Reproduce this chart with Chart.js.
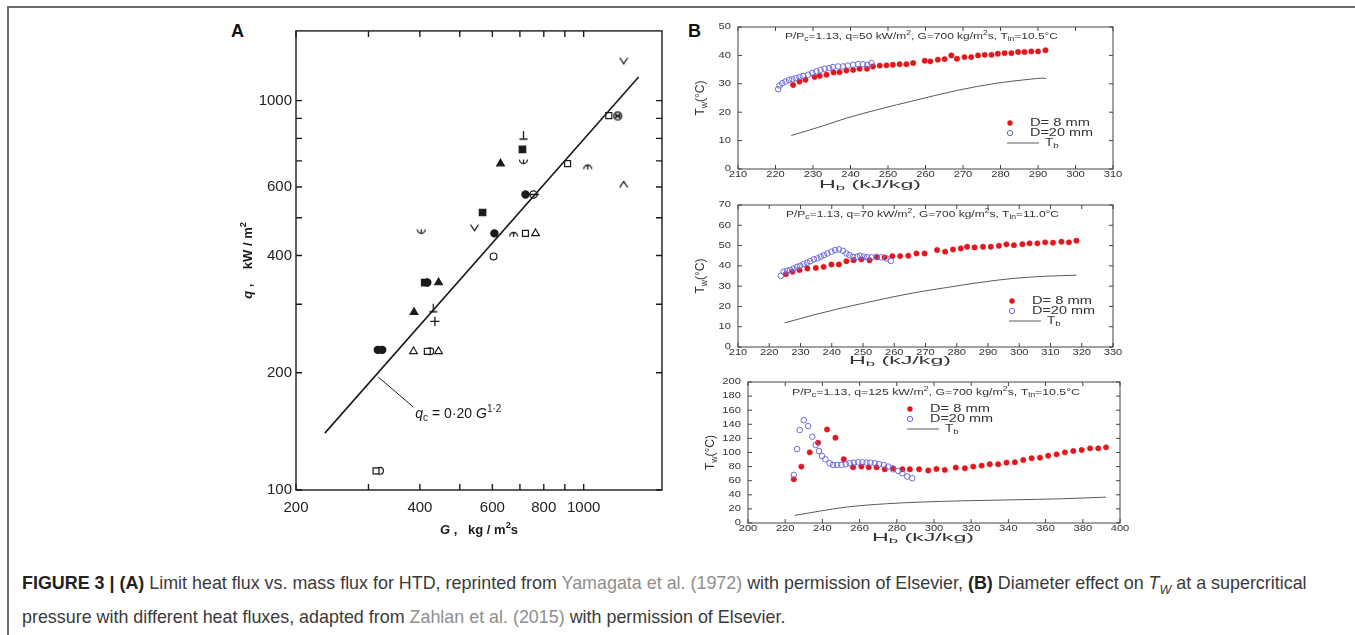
<!DOCTYPE html>
<html lang="en">
<head>
  <meta charset="UTF-8" />
  <title>Figure 3 - HTD limit heat flux and diameter effect</title>
  <script src="https://cdn.jsdelivr.net/npm/chart.js"></script>
  <style>
    body {
      margin: 0;
      width: 1355px;
      height: 635px;
      background: #fff;
      position: relative;
      overflow: hidden;
      font-family: "Liberation Sans", Arial, Helvetica, sans-serif;
    }
    .frame {
      position: absolute;
      left: 7px;
      top: 6px;
      width: 1400px;
      height: 700px;
      border-left: 2px solid #6c6c6c;
      border-top: 2px solid #6c6c6c;
    }
    canvas { position: absolute; }
    .tag {
      position: absolute;
      font-weight: bold;
      font-size: 18px;
      color: #111;
    }
    .caption {
      position: absolute;
      left: 22px;
      top: 566px;
      color: #3a3a3a;
      white-space: nowrap;
      font-size: 15px;
    }
    .caption div { height: 34px; line-height: 34px; }
    .caption sub { font-size: 70%; line-height: 0; }
    .caption b { color: #222; }
    .caption .ref { color: #8e8e8e; }
  </style>
</head>
<body>
  <div class="frame"></div>
  <div class="tag" style="left:231px; top:21px;">A</div>
  <div class="tag" style="left:688px; top:21px;">B</div>

  <canvas id="chartA"></canvas>
  <canvas id="chartB1"></canvas>
  <canvas id="chartB2"></canvas>
  <canvas id="chartB3"></canvas>

  <div class="caption" id="caption">
    <div id="capLine1"><b>FIGURE 3 | (A)</b> Limit heat flux vs. mass flux for HTD, reprinted from <span class="ref">Yamagata et al. (1972)</span> with permission of Elsevier, <b>(B)</b> Diameter effect on <i>T<sub>W</sub></i> at a supercritical</div>
    <div>pressure with different heat fluxes, adapted from <span class="ref">Zahlan et al. (2015)</span> with permission of Elsevier.</div>
  </div>

  <script>
    // ---------- Panel A: limit heat flux q (kW/m2) vs mass flux G (kg/m2s) ----------
    const fitG = [235, 1360];            // q_c = 0.20 G^1.2
    const fitQ = [140, 1150];
    const noteG = 317, noteQ = 195;      // where the formula pointer touches the line

    const dotG = [722, 607, 417, 316, 324];
    const dotQ = [574, 456, 341, 229, 229];
    const blockG = [710, 568, 411];
    const blockQ = [749, 516, 341];
    const wedgeG = [628, 444, 387];
    const wedgeQ = [689, 341, 286];
    const boxG = [1151, 914, 722, 417, 313];
    const boxQ = [915, 689, 456, 227, 112];
    const ringG = [604, 424, 320];
    const ringQ = [398, 227, 112];
    const deltaG = [764, 386, 444];
    const deltaQ = [456, 227, 227];
    const veeG = [1251, 543];
    const veeQ = [1266, 472];
    const caretG = [1251];
    const caretQ = [609];
    const tackG = [714, 431];
    const tackQ = [813, 293];
    const plusG = [435];
    const plusQ = [271];
    const cupG = [714, 403];
    const cupQ = [693, 459];
    const archG = [1023, 676];
    const archQ = [679, 456];
    const thetaG = [755];
    const thetaQ = [574];
    const otimesG = [1210];
    const otimesQ = [913];

    const gTicks = [200, 300, 400, 500, 600, 700, 800, 900, 1000];
    const gLabels = [200, 400, 600, 800, 1000];
    const qTicks = [100, 200, 300, 400, 500, 600, 700, 800, 900, 1000];
    const qLabels = [100, 200, 400, 600, 1000];

    // ---------- Panel B: wall temperature vs bulk enthalpy ----------
    const fluxB = ['50', '70', '125'];
    const inletB = ['10.5', '11.0', '10.5'];

    const b1RedH = [224.7,226.4,228,230.4,231.8,233.6,235.5,237.1,238.9,240.7,242.4,244.4,246,247.8,249.6,251.3,253.1,254.9,256.7,259.8,261.3,263.3,265.1,266.9,268.4,270.4,272.2,274,275.8,277.6,279.3,281.1,282.9,284.7,286.4,288.2,290,292];
    const b1RedT = [29.6,30.8,31.4,32.4,32.8,33.2,34,34.1,34.7,34.9,35.3,35.3,36.1,36.4,36.5,36.7,36.9,36.9,37.3,38.1,37.9,38.5,38.7,40,38.8,39.4,39.4,40,40.2,40.2,40.6,40.8,40.8,41.2,41.2,41.4,41.4,41.8];
    const b1BlueH = [220.7,221.1,221.8,222.7,223.6,224.5,225.4,226.4,227.3,228.7,229.8,230.9,232,233.1,234.3,235.3,236.7,238,239.3,240.7,242,243.3,244.5,245.6];
    const b1BlueT = [28.1,29.4,30.2,30.8,31.4,31.6,32,32.4,32.8,33.2,33.8,34.4,34.9,35.3,35.5,35.9,36.1,36.1,36.4,36.7,36.9,36.9,36.7,37.3];
    const b1BulkH = [224.2,232.7,238.9,247.8,256.7,268.2,278.9,287.8,291.3,292.2];
    const b1BulkT = [11.8,15.2,17.9,21.1,24,27.6,30.2,31.6,32,31.8];

    const b2RedH = [225.3,227.4,229.7,232.2,234.9,237.4,239.9,242.3,244.7,247,249.5,252.1,254.5,256.9,259.4,261.9,264.5,267.1,269.7,273.7,276.3,278.8,281.3,283.3,285.7,288.4,290.9,293.5,295.9,298.3,301,303.3,305.8,308.3,310.8,313.5,315.9,318.3];
    const b2RedT = [35.9,37.1,37.9,38.7,39,39.5,40.7,40.7,42.3,42.8,43.2,42.8,44.2,44.2,44.8,44.8,45,46.1,46.1,47.8,47,48.1,48.6,49.4,49.1,49.4,49.4,49.9,50.6,50.2,50.7,51.1,51.1,51.6,51.4,51.9,51.6,52.4];
    const b2BlueH = [223.7,224.6,225.7,226.7,227.8,228.9,229.9,231,232.1,233.1,234.3,235.4,236.5,237.5,238.6,239.9,241.1,242.3,243.6,244.7,245.7,246.8,248.1,249.1,250.2,251.3,252.7,254.3,255.9,257.5,258.9];
    const b2BlueT = [35.1,37.1,37.6,37.9,38.7,39.5,40,40.9,41.5,42.3,43.2,43.7,44.5,45.3,46.1,47,47.8,48.1,47.4,46.1,45.3,44.5,44.5,45,44.5,44.2,44.2,44.5,44.2,43.7,42.5];
    const b2BulkH = [224.9,234,241.5,251.1,259.6,268.1,276.7,287.3,298,308.7,318.3];
    const b2BulkT = [11.9,15.7,18.6,21.9,24.7,27.2,29.3,31.8,33.8,34.9,35.4];

    const b3RedH = [224.6,228.7,233.2,237.7,242.5,247,251.5,256.5,261,264.9,269.1,273.5,278,283,287,292,296.9,301.3,305.8,311.7,316.6,321.1,325.6,330,334.5,339,343.5,348,352.5,357,361.4,365.9,370.4,374.9,379.4,383.9,388.3,392.5];
    const b3RedT = [62.1,80,100.2,113.9,132.7,120.9,90.4,79.1,80,79.1,79.1,76.2,77.6,76.2,76.2,76.2,74.4,76.7,75.3,78.6,77.6,80,81.4,83.3,83.3,85.6,86.1,89.4,91.8,92.7,95.5,97.4,100.2,102.1,103.5,105.9,105.9,107.3];
    const b3BlueH = [224.6,226.4,227.8,230,232.3,234.6,236.4,238.2,239.8,241.6,243.9,245.7,247.9,250.2,252.6,254.7,256.9,259.2,261.5,263.7,265.8,268.2,270.5,273,275.3,278,280.7,283,285.6,288.3];
    const b3BlueT = [68.2,104.9,131.8,145.9,137.4,122.4,110.6,102.1,95.1,90.4,84.7,82.4,82.4,82.4,83.3,84.7,85.6,86.1,86.1,85.6,85.6,84.7,83.3,82.4,80,76.2,73.9,70.6,65.9,63.5];
    const b3BulkH = [225.1,252.9,274.4,292.4,315.7,342.6,369.5,392.5];
    const b3BulkT = [10.8,22.6,27.3,29.6,31.5,32.9,34.4,36.7];

    // ---------- helpers ----------
    const FAMILY = '"Liberation Sans", Arial, Helvetica, sans-serif';
    const INK = '#1b1b1b';
    const TXT = '#333';
    const RED = '#e3161d';
    const BLUE = '#6a6ade';
    const BULK = '#5a5a5a';

    function pts(xs, ys) {
      return xs.map((x, i) => ({ x: x, y: ys[i] }));
    }

    // size the canvas so the plot area lands on the given page rectangle
    function place(canvas, area, m) {
      canvas.style.left = (area.left - m.l) + 'px';
      canvas.style.top = (area.top - m.t) + 'px';
      canvas.width = area.width + m.l + m.r;
      canvas.height = area.height + m.t + m.b;
    }

    // text made of runs: ['text', ''|'sub'|'sup'|'it'], optionally stretched sideways
    function drawParts(ctx, parts, x, y, o) {
      const size = o.size;
      const runs = parts.map(([t, mode]) => {
        const s = (mode === 'sub' || mode === 'sup') ? size * 0.72 : size;
        const font = (mode === 'it' ? 'italic ' : '') + (o.weight || 'normal') + ' ' + s + 'px ' + FAMILY;
        ctx.font = font;
        return { t, font, w: ctx.measureText(t).width,
                 dy: mode === 'sub' ? size * 0.3 : mode === 'sup' ? -size * 0.38 : 0 };
      });
      const natural = runs.reduce((s, r) => s + r.w, 0);
      const sx = o.width ? o.width / natural : (o.sx || 1);
      const total = natural * sx;
      ctx.save();
      ctx.translate(x, y);
      if (o.rotate) ctx.rotate(o.rotate);
      const start = o.align === 'center' ? -total / 2 : o.align === 'right' ? -total : 0;
      ctx.translate(start, 0);
      ctx.scale(sx, 1);
      ctx.fillStyle = o.color || TXT;
      ctx.textBaseline = 'middle';
      ctx.textAlign = 'left';
      let cx = 0;
      runs.forEach(r => {
        ctx.font = r.font;
        ctx.fillText(r.t, cx, r.dy);
        cx += r.w;
      });
      ctx.restore();
    }

    // box round the plot area with inward tick marks on all four sides
    const frameTicks = {
      id: 'frameTicks',
      afterDraw(chart, args, o) {
        const { ctx, chartArea: a, scales: { x, y } } = chart;
        ctx.save();
        ctx.strokeStyle = o.color;
        ctx.lineWidth = o.width;
        ctx.strokeRect(a.left, a.top, a.right - a.left, a.bottom - a.top);
        ctx.beginPath();
        x.ticks.forEach(t => {
          const px = x.getPixelForValue(t.value);
          ctx.moveTo(px, a.bottom); ctx.lineTo(px, a.bottom - o.len);
          ctx.moveTo(px, a.top); ctx.lineTo(px, a.top + o.len);
        });
        y.ticks.forEach(t => {
          const py = y.getPixelForValue(t.value);
          ctx.moveTo(a.left, py); ctx.lineTo(a.left + o.len, py);
          ctx.moveTo(a.right, py); ctx.lineTo(a.right - o.len, py);
        });
        ctx.stroke();
        ctx.restore();
      }
    };

    // small drawn symbols for the odd markers of panel A
    function glyph(draw) {
      const c = document.createElement('canvas');
      c.width = 13; c.height = 13;
      const g = c.getContext('2d');
      g.strokeStyle = INK;
      g.fillStyle = INK;
      g.lineWidth = 1.3;
      g.beginPath();
      draw(g, 6.5);
      g.stroke();
      return c;
    }
    const veeMark = glyph((g, c) => { g.moveTo(c - 4, c - 3); g.lineTo(c, c + 3); g.lineTo(c + 4, c - 3); });
    const caretMark = glyph((g, c) => { g.moveTo(c - 4, c + 3); g.lineTo(c, c - 3); g.lineTo(c + 4, c + 3); });
    const tackMark = glyph((g, c) => { g.moveTo(c, c - 4.5); g.lineTo(c, c + 3.5); g.moveTo(c - 4, c + 3.5); g.lineTo(c + 4, c + 3.5); });
    const cupMark = glyph((g, c) => { g.moveTo(c + 4, c - 3); g.arc(c, c - 3, 4, 0, Math.PI); g.moveTo(c, c - 3); g.lineTo(c, c + 1); });
    const archMark = glyph((g, c) => { g.moveTo(c - 4, c + 3); g.arc(c, c + 3, 4, Math.PI, 0); g.moveTo(c, c - 1); g.lineTo(c, c + 3.5); });
    const thetaMark = glyph((g, c) => { g.arc(c, c, 3.6, 0, 2 * Math.PI); g.moveTo(c - 5.5, c); g.lineTo(c + 5.5, c); });
    const otimesMark = glyph((g, c) => {
      g.arc(c, c, 4, 0, 2 * Math.PI);
      g.moveTo(c - 2.8, c - 2.8); g.lineTo(c + 2.8, c + 2.8);
      g.moveTo(c + 2.8, c - 2.8); g.lineTo(c - 2.8, c + 2.8);
      g.moveTo(c - 2.8, c); g.lineTo(c + 2.8, c);
    });

    function marks(g, q, style, r, fill, extra) {
      return Object.assign({
        data: pts(g, q), pointStyle: style, pointRadius: r,
        backgroundColor: fill, borderColor: INK, borderWidth: 1.2, showLine: false
      }, extra || {});
    }

    // ---------- Panel A chart ----------
    const areaA = { left: 296, top: 30, width: 366, height: 460 };
    const mA = { l: 80, r: 10, t: 5, b: 50 };
    const canvasA = document.getElementById('chartA');
    place(canvasA, areaA, mA);

    const decoA = {
      id: 'decoA',
      afterDraw(chart) {
        const { ctx, chartArea: a, scales: { x, y } } = chart;
        const px = x.getPixelForValue(noteG);
        const py = y.getPixelForValue(noteQ);
        ctx.save();
        ctx.strokeStyle = INK;
        ctx.lineWidth = 1;
        ctx.beginPath();
        ctx.moveTo(px, py);
        ctx.lineTo(px + 35, py + 30);
        ctx.stroke();
        ctx.restore();
        drawParts(ctx, [['q', 'it'], ['c', 'sub'], [' = 0·20 ', ''], ['G', 'it'], ['1·2', 'sup']],
          px + 37, py + 37, { size: 14, align: 'left', color: INK });
        drawParts(ctx, [['G', 'it'], [' ,   kg / m', ''], ['2', 'sup'], ['s', '']],
          (a.left + a.right) / 2, a.bottom + 40, { size: 13, weight: 'bold', align: 'center', color: INK });
        drawParts(ctx, [['q', 'it'], [' ,    kW / m', ''], ['2', 'sup']],
          a.left - 48, (a.top + a.bottom) / 2, { size: 13, weight: 'bold', align: 'center', color: INK, rotate: -Math.PI / 2 });
      }
    };

    new Chart(canvasA, {
      type: 'scatter',
      data: {
        datasets: [
          { data: pts(fitG, fitQ), showLine: true, pointRadius: 0, borderColor: INK, borderWidth: 1.6 },
          marks(dotG, dotQ, 'circle', 3.6, INK),
          marks(blockG, blockQ, 'rect', 4.6, INK),
          marks(wedgeG, wedgeQ, 'triangle', 4.4, INK),
          marks(boxG, boxQ, 'rect', 4.2, '#fff'),
          marks(ringG, ringQ, 'circle', 3.4, '#fff'),
          marks(deltaG, deltaQ, 'triangle', 4.4, '#fff'),
          marks(veeG, veeQ, veeMark, 4, INK),
          marks(caretG, caretQ, caretMark, 4, INK),
          marks(tackG, tackQ, tackMark, 4, INK),
          marks(plusG, plusQ, 'cross', 4.6, INK, { borderWidth: 1.3 }),
          marks(cupG, cupQ, cupMark, 4, INK),
          marks(archG, archQ, archMark, 4, INK),
          marks(thetaG, thetaQ, thetaMark, 4, INK),
          marks(otimesG, otimesQ, otimesMark, 4, INK)
        ]
      },
      options: {
        responsive: false,
        animation: false,
        layout: { padding: { left: 0, right: mA.r, top: mA.t, bottom: 0 } },
        plugins: {
          legend: { display: false },
          tooltip: { enabled: false },
          frameTicks: { color: INK, width: 1.4, len: 6 }
        },
        scales: {
          x: {
            type: 'logarithmic', min: 200, max: 1550,
            grid: { display: false, drawTicks: false },
            border: { display: false },
            ticks: {
              autoSkip: false, maxRotation: 0, padding: 9, color: '#222',
              font: { size: 15, family: FAMILY },
              callback: v => gLabels.includes(v) ? String(v) : ''
            },
            afterBuildTicks: s => { s.ticks = gTicks.map(v => ({ value: v })); },
            afterFit: s => { s.height = mA.b; s.paddingLeft = 0; s.paddingRight = 0; }
          },
          y: {
            type: 'logarithmic', min: 100, max: 1510,
            grid: { display: false, drawTicks: false },
            border: { display: false },
            ticks: {
              autoSkip: false, padding: 4, color: '#222',
              font: { size: 15, family: FAMILY },
              callback: v => qLabels.includes(v) ? String(v) : ''
            },
            afterBuildTicks: s => { s.ticks = qTicks.map(v => ({ value: v })); },
            afterFit: s => { s.width = mA.l; s.paddingTop = 0; s.paddingBottom = 0; }
          }
        }
      },
      plugins: [frameTicks, decoA]
    });

    // ---------- Panel B charts ----------
    function noteParts(q, tin) {
      return [['P/P', ''], ['c', 'sub'], ['=1.13, q=' + q + ' kW/m', ''], ['2', 'sup'],
              [', G=700 kg/m', ''], ['2', 'sup'], ['s, T', ''], ['in', 'sub'], ['=' + tin + '°C', '']];
    }

    function decoB(cfg) {
      return {
        id: 'decoB',
        afterDraw(chart) {
          const { ctx, chartArea: a, scales: { x, y } } = chart;
          x.ticks.forEach(t => drawParts(ctx, [[String(t.value), '']],
            x.getPixelForValue(t.value), a.bottom + 6, { size: 8.6, sx: 1.3, align: 'center' }));
          y.ticks.forEach(t => drawParts(ctx, [[String(t.value), '']],
            a.left - 7, y.getPixelForValue(t.value), { size: 8.6, sx: 1.3, align: 'right' }));

          drawParts(ctx, [['H', ''], ['b', 'sub'], [' (kJ/kg)', '']],
            a.left + cfg.titleDx, a.bottom + cfg.titleDy, { size: 10.5, width: 102, align: 'center' });
          drawParts(ctx, [['T', ''], ['w', 'sub'], ['(°C)', '']],
            a.left - 37, (a.top + a.bottom) / 2, { size: 12, align: 'center', rotate: -Math.PI / 2 });

          drawParts(ctx, cfg.note, (a.left + a.right) / 2 + cfg.noteDx, a.top + cfg.noteDy,
            { size: 8.8, width: cfg.noteW, align: 'center' });

          // legend
          const lx = a.left + cfg.leg[0];
          const ly = a.top + cfg.leg[1];
          const ds = chart.data.datasets;
          ctx.save();
          ctx.fillStyle = RED;
          ctx.beginPath(); ctx.arc(lx, ly, 2.7, 0, 2 * Math.PI); ctx.fill();
          ctx.strokeStyle = BLUE; ctx.lineWidth = 1;
          ctx.beginPath(); ctx.arc(lx, ly + 10, 2.7, 0, 2 * Math.PI); ctx.stroke();
          ctx.strokeStyle = BULK;
          ctx.beginPath(); ctx.moveTo(lx - 3, ly + 20); ctx.lineTo(lx + 29, ly + 20); ctx.stroke();
          ctx.restore();
          drawParts(ctx, [[ds[0].label, '']], lx + 20, ly, { size: 10, width: 60 });
          drawParts(ctx, [[ds[1].label, '']], lx + 20, ly + 10, { size: 10, width: 63 });
          drawParts(ctx, [['T', ''], ['b', 'sub']], lx + 35, ly + 20, { size: 10, sx: 1.35 });
        }
      };
    }

    function panelB(id, cfg) {
      const m = { l: 48, r: 12, t: 8, b: 24 };
      const cv = document.getElementById(id);
      place(cv, cfg.area, m);
      return new Chart(cv, {
        type: 'scatter',
        data: {
          datasets: [
            { label: 'D= 8 mm', data: pts(cfg.red[0], cfg.red[1]), pointStyle: 'circle', pointRadius: 2.7,
              backgroundColor: RED, borderColor: RED, borderWidth: 0.5, order: 2 },
            { label: 'D=20 mm', data: pts(cfg.blue[0], cfg.blue[1]), pointStyle: 'circle', pointRadius: 2.8,
              backgroundColor: 'rgba(255,255,255,0)', borderColor: BLUE, borderWidth: 1, order: 1 },
            { label: 'Tb', data: pts(cfg.bulk[0], cfg.bulk[1]), showLine: true, pointRadius: 0,
              borderColor: BULK, borderWidth: 1, cubicInterpolationMode: 'monotone', order: 3 }
          ]
        },
        options: {
          responsive: false,
          animation: false,
          layout: { padding: { left: 0, right: m.r, top: m.t, bottom: 0 } },
          plugins: {
            legend: { display: false },
            tooltip: { enabled: false },
            frameTicks: { color: '#444', width: 1, len: 4 }
          },
          scales: {
            x: {
              type: 'linear', min: cfg.x[0], max: cfg.x[1],
              ticks: { stepSize: cfg.x[2], display: false },
              grid: { display: false, drawTicks: false },
              border: { display: false },
              afterFit: s => { s.height = m.b; s.paddingLeft = 0; s.paddingRight = 0; }
            },
            y: {
              type: 'linear', min: cfg.y[0], max: cfg.y[1],
              ticks: { stepSize: cfg.y[2], display: false },
              grid: { display: false, drawTicks: false },
              border: { display: false },
              afterFit: s => { s.width = m.l; s.paddingTop = 0; s.paddingBottom = 0; }
            }
          }
        },
        plugins: [frameTicks, decoB(cfg)]
      });
    }

    panelB('chartB1', {
      area: { left: 738, top: 27, width: 375, height: 142 },
      x: [210, 310, 10], y: [0, 50, 10],
      red: [b1RedH, b1RedT], blue: [b1BlueH, b1BlueT], bulk: [b1BulkH, b1BulkT],
      note: noteParts(fluxB[0], inletB[0]), noteDx: -4, noteDy: 10, noteW: 273,
      titleDx: 132, titleDy: 16, leg: [272, 96]
    });
    panelB('chartB2', {
      area: { left: 738, top: 205, width: 375, height: 142 },
      x: [210, 330, 10], y: [0, 70, 10],
      red: [b2RedH, b2RedT], blue: [b2BlueH, b2BlueT], bulk: [b2BulkH, b2BulkT],
      note: noteParts(fluxB[1], inletB[1]), noteDx: -3, noteDy: 10, noteW: 273,
      titleDx: 162, titleDy: 14, leg: [274, 96]
    });
    panelB('chartB3', {
      area: { left: 748, top: 382, width: 372, height: 141 },
      x: [200, 400, 20], y: [0, 200, 20],
      red: [b3RedH, b3RedT], blue: [b3BlueH, b3BlueT], bulk: [b3BulkH, b3BulkT],
      note: noteParts(fluxB[2], inletB[2]), noteDx: 2, noteDy: 11, noteW: 288,
      titleDx: 175, titleDy: 15, leg: [162, 27]
    });

    // stretch the caption so its first line spans the same width as the original
    const line1 = document.getElementById('capLine1');
    const natural = line1.getBoundingClientRect().width;
    document.getElementById('caption').style.fontSize = (15 * 1285 / natural).toFixed(2) + 'px';
  </script>
</body>
</html>
